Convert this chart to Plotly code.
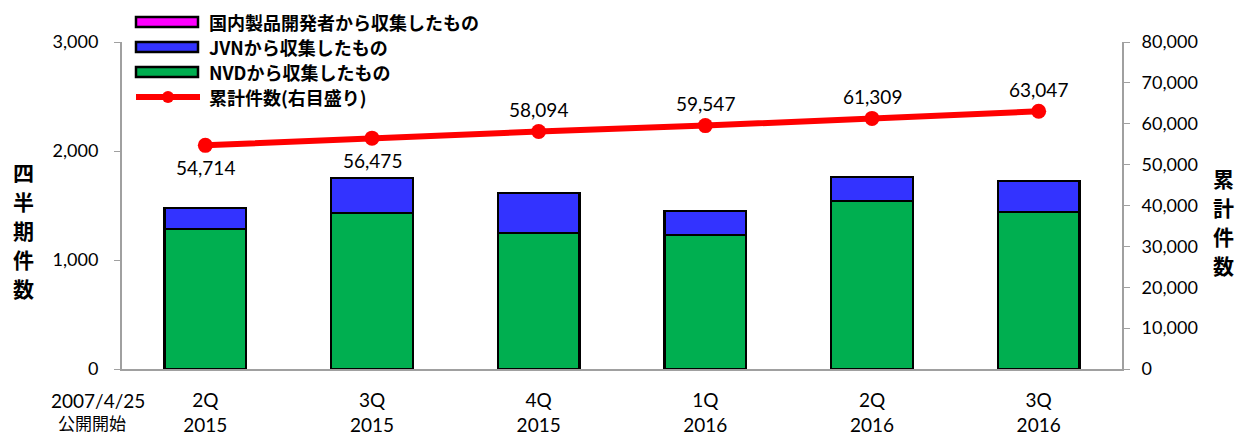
import plotly.graph_objects as go

categories = ["2Q<br>2015", "3Q<br>2015", "4Q<br>2015", "1Q<br>2016", "2Q<br>2016", "3Q<br>2016"]
nvd = [1284, 1431, 1248, 1229, 1541, 1440]
jvn = [193, 321, 367, 221, 220, 285]
domestic = [0, 0, 0, 0, 0, 0]
cumulative = [54714, 56475, 58094, 59547, 61309, 63047]
label_below = [True, True, False, False, False, False]

legend_names = ["国内製品開発者から収集したもの", "JVNから収集したもの", "NVDから収集したもの", "累計件数(右目盛り)"]
legend_colors = ["#FF00FF", "#3333FF", "#00AF50", "#FF0000"]

FONT = "Lato, 'Noto Sans CJK JP', sans-serif"
JFONT = "'Noto Sans CJK JP', sans-serif"

L, R, T, B = 122, 125, 42, 68
W, H = 1247, 437
PW, PH = W - L - R, H - T - B


def px(x):
    return (x - L) / PW


def py(y):
    return (H - B - y) / PH


fig = go.Figure()
fig.add_trace(go.Bar(x=categories, y=nvd, name=legend_names[2],
                     marker=dict(color=legend_colors[2], line=dict(color="black", width=2.5))))
fig.add_trace(go.Bar(x=categories, y=jvn, name=legend_names[1],
                     marker=dict(color=legend_colors[1], line=dict(color="black", width=2.5))))
fig.add_trace(go.Bar(x=categories, y=domestic, name=legend_names[0],
                     marker=dict(color=legend_colors[0], line=dict(color="black", width=2.5))))
fig.add_trace(go.Scatter(x=categories, y=cumulative, name=legend_names[3],
                         mode="lines+markers", yaxis="y2",
                         line=dict(color="#FF0000", width=6),
                         marker=dict(color="#FF0000", size=15),
                         cliponaxis=False))

for cat, val, below in zip(categories, cumulative, label_below):
    fig.add_annotation(x=cat, y=val, xref="x", yref="y2", showarrow=False,
                       text=f"{val:,}", yshift=-22 if below else 22,
                       xanchor="center", yanchor="middle",
                       font=dict(size=19, color="black", family=FONT))

fig.update_layout(
    width=W, height=H,
    margin=dict(l=L, r=R, t=T, b=B, autoexpand=False),
    barmode="stack", bargap=0.51,
    plot_bgcolor="white", paper_bgcolor="white",
    font=dict(family=FONT, size=16, color="black"),
    showlegend=False,
    xaxis=dict(showline=True, linecolor="#A0A0A0", linewidth=2,
               tickfont=dict(size=19), ticks="", showgrid=False,
               ticklabelstandoff=13),
    yaxis=dict(range=[0, 3000], dtick=1000, tickformat=",", showline=True,
               linecolor="#A0A0A0", linewidth=2, ticks="outside", ticklen=6,
               tickcolor="#A0A0A0", showgrid=False, tickfont=dict(size=18),
               ticklabelstandoff=12),
    yaxis2=dict(range=[0, 80000], dtick=10000, tickformat=",", overlaying="y",
                side="right", showline=True, linecolor="#A0A0A0", linewidth=2,
                ticks="outside", ticklen=6, tickcolor="#A0A0A0", showgrid=False,
                tickfont=dict(size=18), ticklabelstandoff=8),
)

# manual legend (wide rectangles like the original)
rows_y = [22, 47, 72]
for i in range(3):
    fig.add_shape(type="rect", xref="paper", yref="paper",
                  x0=px(136), x1=px(198), y0=py(rows_y[i] - 5), y1=py(rows_y[i] + 5),
                  fillcolor=legend_colors[i], line=dict(color="black", width=2.5))
line_y = 97
fig.add_shape(type="line", xref="paper", yref="paper",
              x0=px(136), x1=px(200), y0=py(line_y), y1=py(line_y),
              line=dict(color="#FF0000", width=6))
fig.add_shape(type="circle", xref="paper", yref="paper",
              x0=px(162), x1=px(174), y0=py(line_y - 6), y1=py(line_y + 6),
              fillcolor="#FF0000", line=dict(color="#FF0000", width=0))
for i, yy in enumerate(rows_y + [line_y]):
    fig.add_annotation(xref="paper", yref="paper", x=px(207), y=py(yy),
                       xanchor="left", yanchor="middle", showarrow=False,
                       text=f"<b>{legend_names[i]}</b>",
                       font=dict(family=JFONT, size=18, color="black"))

# vertical axis titles, one character per line
for ch, yy in zip("四半期件数", [172, 201, 230, 259, 288]):
    fig.add_annotation(xref="paper", yref="paper", x=px(23), y=py(yy),
                       xanchor="center", yanchor="middle", showarrow=False,
                       text=f"<b>{ch}</b>", font=dict(family=JFONT, size=21))
for ch, yy in zip("累計件数", [178, 207, 236, 265]):
    fig.add_annotation(xref="paper", yref="paper", x=px(1223), y=py(yy),
                       xanchor="center", yanchor="middle", showarrow=False,
                       text=f"<b>{ch}</b>", font=dict(family=JFONT, size=21))

fig.add_annotation(xref="paper", yref="paper", x=px(98), y=py(400),
                   xanchor="center", yanchor="middle", showarrow=False,
                   text="2007/4/25", font=dict(family=FONT, size=19))
fig.add_annotation(xref="paper", yref="paper", x=px(92), y=py(423),
                   xanchor="center", yanchor="middle", showarrow=False,
                   text="公開開始", font=dict(family=JFONT, size=17))

fig.write_html("out.html")
